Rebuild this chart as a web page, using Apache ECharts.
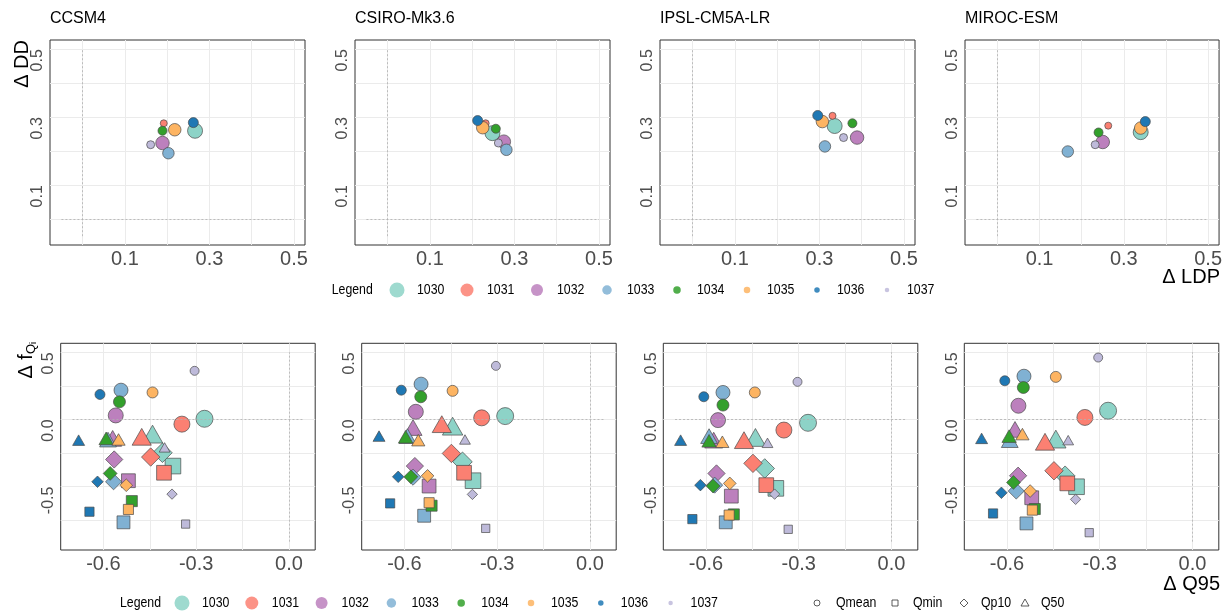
<!DOCTYPE html>
<html>
<head>
<meta charset="utf-8">
<script src="https://cdn.jsdelivr.net/npm/echarts@6/dist/echarts.min.js"></script>
<style>
html, body { margin: 0; padding: 0; background: #fff; }
#main { width: 1225px; height: 613px; }
</style>
</head>
<body>
<div id="main"></div>
<script>
// ---- data ----
const models = ['CCSM4', 'CSIRO-Mk3.6', 'IPSL-CM5A-LR', 'MIROC-ESM'];
const groups = ['1030', '1031', '1032', '1033', '1034', '1035', '1036', '1037'];
const stats = ['Qmean', 'Qmin', 'Qp10', 'Q50'];

// top row: delta LDP (x) and delta DD (y), one value per group
const ldpCCSM4 = [0.266, 0.192, 0.189, 0.203, 0.189, 0.218, 0.262, 0.161];
const ddCCSM4  = [0.260, 0.282, 0.224, 0.194, 0.260, 0.263, 0.284, 0.219];
const ldpCSIRO = [0.248, 0.232, 0.275, 0.281, 0.256, 0.225, 0.213, 0.262];
const ddCSIRO  = [0.253, 0.282, 0.228, 0.204, 0.266, 0.269, 0.290, 0.224];
const ldpIPSL  = [0.336, 0.331, 0.389, 0.313, 0.378, 0.307, 0.296, 0.357];
const ddIPSL   = [0.274, 0.304, 0.240, 0.214, 0.282, 0.287, 0.305, 0.240];
const ldpMIROC = [0.340, 0.263, 0.250, 0.167, 0.240, 0.340, 0.351, 0.232];
const ddMIROC  = [0.256, 0.275, 0.227, 0.199, 0.255, 0.268, 0.287, 0.219];

// bottom row: delta Q95 (x) and delta fQi (y); rows follow stats, columns follow groups
const q95CCSM4 = [
  [-0.273, -0.346, -0.560, -0.543, -0.548, -0.441, -0.611, -0.305],
  [-0.375, -0.404, -0.519, -0.535, -0.508, -0.519, -0.645, -0.334],
  [-0.409, -0.447, -0.565, -0.567, -0.578, -0.526, -0.619, -0.378],
  [-0.441, -0.476, -0.570, -0.585, -0.591, -0.551, -0.680, -0.402]
];
const fqCCSM4 = [
  [0.005, -0.035, 0.030, 0.218, 0.131, 0.201, 0.186, 0.362],
  [-0.347, -0.397, -0.456, -0.766, -0.608, -0.670, -0.687, -0.779],
  [-0.248, -0.280, -0.298, -0.464, -0.402, -0.490, -0.464, -0.556],
  [-0.109, -0.129, -0.141, -0.150, -0.141, -0.149, -0.154, -0.208]
];
const q95CSIRO = [
  [-0.274, -0.350, -0.563, -0.546, -0.547, -0.444, -0.610, -0.304],
  [-0.378, -0.407, -0.520, -0.536, -0.512, -0.520, -0.646, -0.337],
  [-0.412, -0.448, -0.566, -0.572, -0.579, -0.525, -0.620, -0.380],
  [-0.444, -0.479, -0.572, -0.590, -0.596, -0.555, -0.682, -0.404]
];
const fqCSIRO = [
  [0.025, 0.012, 0.057, 0.263, 0.169, 0.213, 0.218, 0.399],
  [-0.456, -0.397, -0.496, -0.717, -0.642, -0.620, -0.625, -0.811],
  [-0.315, -0.253, -0.347, -0.430, -0.427, -0.420, -0.427, -0.558],
  [-0.050, -0.035, -0.060, -0.124, -0.129, -0.154, -0.124, -0.149]
];
const q95IPSL = [
  [-0.270, -0.348, -0.561, -0.545, -0.545, -0.442, -0.607, -0.304],
  [-0.374, -0.405, -0.518, -0.536, -0.510, -0.525, -0.644, -0.334],
  [-0.410, -0.448, -0.566, -0.572, -0.577, -0.523, -0.618, -0.378],
  [-0.440, -0.477, -0.575, -0.590, -0.590, -0.547, -0.682, -0.401]
];
const fqIPSL = [
  [-0.025, -0.079, -0.005, 0.201, 0.107, 0.201, 0.169, 0.280],
  [-0.513, -0.489, -0.571, -0.766, -0.707, -0.712, -0.742, -0.818],
  [-0.365, -0.327, -0.402, -0.489, -0.496, -0.476, -0.489, -0.556],
  [-0.134, -0.154, -0.154, -0.124, -0.159, -0.166, -0.154, -0.174]
];
const q95MIROC = [
  [-0.273, -0.348, -0.563, -0.545, -0.547, -0.442, -0.607, -0.305],
  [-0.375, -0.405, -0.520, -0.537, -0.510, -0.518, -0.645, -0.334],
  [-0.412, -0.448, -0.564, -0.570, -0.579, -0.525, -0.618, -0.378],
  [-0.442, -0.477, -0.574, -0.591, -0.593, -0.550, -0.682, -0.402]
];
const fqMIROC = [
  [0.065, 0.015, 0.102, 0.322, 0.238, 0.317, 0.288, 0.461],
  [-0.501, -0.476, -0.583, -0.774, -0.667, -0.675, -0.700, -0.843],
  [-0.419, -0.382, -0.419, -0.533, -0.469, -0.533, -0.546, -0.595],
  [-0.146, -0.166, -0.074, -0.154, -0.124, -0.109, -0.141, -0.154]
];

// reference (dashed) segments
const topRef = [-0.05, 0.5];
const botRefX = [-0.7, 0.05];
const botRefY = [-0.91, 0.5];

const topRows = [[ldpCCSM4, ddCCSM4], [ldpCSIRO, ddCSIRO], [ldpIPSL, ddIPSL], [ldpMIROC, ddMIROC]];
const botRows = [[q95CCSM4, fqCCSM4], [q95CSIRO, fqCSIRO], [q95IPSL, fqIPSL], [q95MIROC, fqMIROC]];

// ---- styles ----
const palette = ['#8DD3C7', '#FB8072', '#BC80BD', '#80B1D3', '#33A02C', '#FDB462', '#1F78B4', '#BEBADA'];
const topSize = [15, 7, 13.5, 11.5, 9, 12.5, 10, 8];
const botSize = [17, 16, 15, 14, 12, 11, 10, 9];
const legendSize = [15, 13, 12, 9.5, 7.5, 6.5, 5.5, 4.5];
const shapeOf = { Qmean: 'circle', Qmin: 'rect', Qp10: 'diamond', Q50: 'triangle' };
const shapeScale = { Qmean: [1, 1], Qmin: [0.92, 0.92], Qp10: [1.15, 1.15], Q50: [1.2, 1.05] };

const topLeft = [50, 355, 660, 965];
const botLeft = [60.7, 361.7, 663.3, 964.3];
const SANS = 'Liberation Sans, Arial, sans-serif';
const NARROW_SCALE = 0.82;   // legend text is set in a condensed face

const grids = [], xAxes = [], yAxes = [], series = [];

function axisPair(i, xr, yr, xTicks, xLabels, yTicks, yLabels) {
  const split = { show: true, lineStyle: { color: '#ebebeb', width: 1 } };
  xAxes.push({
    type: 'value', gridIndex: i, min: xr[0], max: xr[1],
    axisLine: { show: false },
    axisTick: { show: false, customValues: xTicks },
    splitLine: split,
    axisLabel: { customValues: xLabels, formatter: v => v.toFixed(1), fontSize: 20,
      color: '#4d4d4d', margin: 4, fontFamily: SANS }
  });
  yAxes.push({
    type: 'value', gridIndex: i, min: yr[0], max: yr[1],
    axisLine: { show: false },
    axisTick: { show: false, customValues: yTicks },
    splitLine: split,
    axisLabel: { customValues: yLabels, formatter: v => v.toFixed(1), fontSize: 16,
      color: '#4d4d4d', margin: 4, rotate: 90, align: 'right', verticalAlign: 'bottom',
      fontFamily: SANS }
  });
}

function refLines(i, segs) {
  series.push({
    type: 'scatter', xAxisIndex: i, yAxisIndex: i, data: [], z: 1, silent: true,
    markLine: {
      silent: true, symbol: 'none', label: { show: false },
      lineStyle: { type: [2, 2], color: '#b0b0b0', width: 0.8 },
      data: segs
    }
  });
}

// top row
models.forEach((m, p) => {
  grids.push({ left: topLeft[p], top: 40, width: 255, height: 205, show: true,
    borderColor: '#333', borderWidth: 1, backgroundColor: '#fff' });
  axisPair(p, [-0.077, 0.526], [-0.076, 0.527],
    [0, 0.1, 0.2, 0.3, 0.4, 0.5], [0.1, 0.3, 0.5],
    [0, 0.1, 0.2, 0.3, 0.4, 0.5], [0.1, 0.3, 0.5]);
  refLines(p, [
    [{ coord: [0, topRef[0]] }, { coord: [0, topRef[1]] }],
    [{ coord: [topRef[0], 0] }, { coord: [topRef[1], 0] }]
  ]);
  const [xs, ys] = topRows[p];
  groups.forEach((g, k) => {
    series.push({
      name: g, type: 'scatter', xAxisIndex: p, yAxisIndex: p, z: 3,
      symbol: 'circle', symbolSize: topSize[k],
      itemStyle: { color: palette[k], borderColor: '#4a4a4a', borderWidth: 0.7, opacity: 1 },
      data: [[xs[k], ys[k]]]
    });
  });
});

// bottom row
models.forEach((m, p) => {
  const gi = p + 4;
  grids.push({ left: botLeft[p], top: 343.3, width: 254.5, height: 206.7, show: true,
    borderColor: '#333', borderWidth: 1, backgroundColor: '#fff' });
  axisPair(gi, [-0.738, 0.085], [-0.972, 0.567],
    [-0.6, -0.45, -0.3, -0.15, 0], [-0.6, -0.3, 0],
    [-0.75, -0.5, -0.25, 0, 0.25, 0.5], [-0.5, 0, 0.5]);
  refLines(gi, [
    [{ coord: [0, botRefY[0]] }, { coord: [0, botRefY[1]] }],
    [{ coord: [botRefX[0], 0] }, { coord: [botRefX[1], 0] }]
  ]);
  const [xs, ys] = botRows[p];
  groups.forEach((g, k) => {
    series.push({
      name: g, type: 'scatter', xAxisIndex: gi, yAxisIndex: gi, z: 3,
      itemStyle: { color: palette[k], borderColor: '#4a4a4a', borderWidth: 0.7, opacity: 1 },
      data: stats.map((s, j) => ({
        value: [xs[j][k], ys[j][k]],
        symbol: shapeOf[s],
        symbolSize: [botSize[k] * shapeScale[s][0], botSize[k] * shapeScale[s][1]]
      }))
    });
  });
});

// ---- titles, axis names, legends ----
const graphics = [];
function txt(x, y, text, extra) {
  graphics.push(Object.assign({ type: 'text', x: x, y: y, silent: true,
    style: Object.assign({ text: text, fill: '#000', fontFamily: SANS, fontSize: 15,
      align: 'left', verticalAlign: 'middle', textAlign: 'left', textVerticalAlign: 'middle' },
      extra && extra.style) }, extra && extra.el));
}
function legendTxt(x, y, text) {
  txt(x, y, text, { el: { scaleX: NARROW_SCALE }, style: { fontSize: 15 } });
}

models.forEach((m, p) => txt(topLeft[p], 18.5, m, { style: { fontSize: 16 } }));

txt(22, 40, 'Δ DD', { el: { rotation: Math.PI / 2 },
  style: { fontSize: 20, align: 'right', textAlign: 'right' } });
txt(1220, 277, 'Δ LDP', { style: { fontSize: 20, align: 'right', textAlign: 'right' } });
txt(1220, 584, 'Δ Q95', { style: { fontSize: 20, align: 'right', textAlign: 'right' } });
graphics.push({
  type: 'text', x: 27, y: 342, rotation: Math.PI / 2, silent: true,
  style: {
    text: '{a|Δ f}{b|Q}{c|i}', fill: '#000', align: 'right', verticalAlign: 'middle',
    textAlign: 'right', textVerticalAlign: 'middle',
    rich: {
      a: { fontSize: 20, fontFamily: SANS, fill: '#000', color: '#000', lineHeight: 22, verticalAlign: 'top' },
      b: { fontSize: 13, fontFamily: SANS, fill: '#000', color: '#000', lineHeight: 13, padding: [12, 0, 0, 0], verticalAlign: 'bottom' },
      c: { fontSize: 9, fontFamily: SANS, fill: '#000', color: '#000', lineHeight: 9, padding: [16, 0, 0, 0], verticalAlign: 'bottom' }
    }
  }
});

function colorLegend(y, labelX, firstX, step) {
  legendTxt(labelX, y, 'Legend');
  groups.forEach((g, k) => {
    const cx = firstX + step * k;
    graphics.push({ type: 'circle', silent: true, shape: { cx: cx, cy: y, r: legendSize[k] / 2 },
      style: { fill: palette[k], opacity: 0.85 } });
    legendTxt(cx + 20, y, g);
  });
}
colorLegend(290, 331.7, 397, 70);
colorLegend(603, 120, 182, 69.8);

// shape legend
const shapeStroke = { fill: 'none', stroke: '#333', lineWidth: 0.8 };
graphics.push({ type: 'circle', silent: true, shape: { cx: 817, cy: 603, r: 3 }, style: shapeStroke });
legendTxt(836, 603, 'Qmean');
graphics.push({ type: 'rect', silent: true, shape: { x: 892, y: 600, width: 6, height: 6 }, style: shapeStroke });
legendTxt(913, 603, 'Qmin');
graphics.push({ type: 'polygon', silent: true, shape: { points: [[964, 599], [968, 603], [964, 607], [960, 603]] }, style: shapeStroke });
legendTxt(981, 603, 'Qp10');
graphics.push({ type: 'polygon', silent: true, shape: { points: [[1025, 599], [1029, 606], [1021, 606]] }, style: shapeStroke });
legendTxt(1041, 603, 'Q50');

const chart = echarts.init(document.getElementById('main'));
chart.setOption({
  animation: false,
  backgroundColor: '#fff',
  grid: grids,
  xAxis: xAxes,
  yAxis: yAxes,
  series: series,
  graphic: graphics
});
</script>
</body>
</html>
